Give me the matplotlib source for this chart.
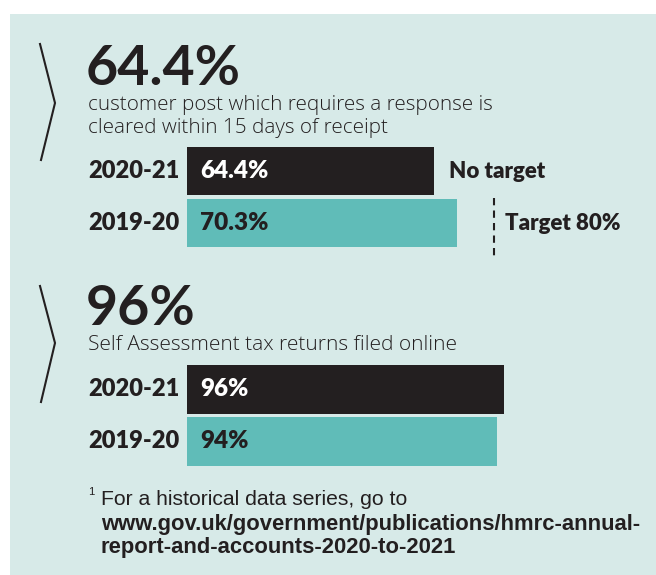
import matplotlib
matplotlib.use('Agg')
import matplotlib.pyplot as plt
from matplotlib.patches import Rectangle

W, H = 656, 575

# customer post cleared within 15 days
POST_YEARS = ['2020-21', '2019-20']
POST_VALUES = [64.4, 70.3]
POST_NOTES = ['No target', 'Target 80%']
POST_TARGET = 80

# Self Assessment returns filed online
SA_YEARS = ['2020-21', '2019-20']
SA_VALUES = [96, 94]

BG = '#d7eae8'
DARK = '#231f20'
TEAL = '#60bcb8'

BOLD = ['Lato', 'DejaVu Sans']
LIGHT = ['Open Sans', 'DejaVu Sans']
COND = ['Liberation Sans', 'DejaVu Sans']


def px_axes(fig, x0, y0, x1, y1):
    return fig.add_axes([x0 / W, 1 - y1 / H, (x1 - x0) / W, (y1 - y0) / H])


def bar_block(fig, years, values, top, bottom, first_center, step, px_per_unit, height_px):
    x0 = 187
    ax = px_axes(fig, x0, top, x0 + 100 * px_per_unit, bottom)
    ax.set_xlim(0, 100)
    ax.set_ylim(1 + (bottom - (first_center + step)) / step, -(first_center - top) / step)
    ax.axis('off')
    colors = [DARK, TEAL]
    txt_colors = ['white', DARK]
    ax.barh(range(len(values)), values, height=height_px / step, color=colors, clip_on=False)
    for i, (yr, v) in enumerate(zip(years, values)):
        ax.annotate(f'{v:g}%', xy=(0, i), xytext=(13, 0), textcoords='offset pixels',
                    ha='left', va='center', fontsize=17.5, fontweight='heavy',
                    family=BOLD, color=txt_colors[i])
        ax.annotate(yr, xy=(0, i), xytext=(88 - x0, 0), textcoords='offset pixels',
                    ha='left', va='center', fontsize=17, fontweight='heavy',
                    family=BOLD, color=DARK, annotation_clip=False)
    return ax


def main():
    fig = plt.figure(figsize=(W / 100, H / 100), dpi=100)
    bg = fig.add_axes([0, 0, 1, 1])
    bg.set_xlim(0, W)
    bg.set_ylim(H, 0)
    bg.axis('off')
    bg.add_patch(Rectangle((10, 14), W - 10, H - 14, color=BG, lw=0))

    # chevrons
    bg.plot([40, 55, 41], [44, 103, 160], color=DARK, lw=1.5, solid_joinstyle='miter')
    bg.plot([40, 55, 41], [286, 343, 402], color=DARK, lw=1.5, solid_joinstyle='miter')

    # headline figures
    bg.text(86, 85, f'{POST_VALUES[0]:g}%', fontsize=40, fontweight='bold', family=BOLD,
            color=DARK, va='baseline')
    bg.text(88, 110, 'customer post which requires a response is', fontsize=14.9,
            fontweight='light', family=LIGHT, color=DARK, va='baseline')
    bg.text(88, 133, 'cleared within 15 days of receipt', fontsize=14.9,
            fontweight='light', family=LIGHT, color=DARK, va='baseline')

    bg.text(86, 325, f'{SA_VALUES[0]:g}%', fontsize=40, fontweight='bold', family=BOLD,
            color=DARK, va='baseline')
    bg.text(88, 350, 'Self Assessment tax returns filed online', fontsize=15,
            fontweight='light', family=LIGHT, color=DARK, va='baseline')

    ax1 = bar_block(fig, POST_YEARS, POST_VALUES, 140, 265, 171, 52, 3.84, 48)
    ax1.annotate(POST_NOTES[0], xy=(POST_VALUES[0], 0), xytext=(15, 0),
                 textcoords='offset pixels', ha='left', va='center', fontsize=16,
                 fontweight='heavy', family=BOLD, color=DARK, annotation_clip=False)
    ax1.vlines(POST_TARGET, (198 - 171) / 52, (260 - 171) / 52, color=DARK, lw=1.5,
               linestyles=(0, (3.5, 2.5)), clip_on=False)
    ax1.annotate(POST_NOTES[1], xy=(POST_TARGET, 1), xytext=(11, 0),
                 textcoords='offset pixels', ha='left', va='center', fontsize=16,
                 fontweight='heavy', family=BOLD, color=DARK, annotation_clip=False)

    bar_block(fig, SA_YEARS, SA_VALUES, 358, 470, 389.5, 52, 3.30, 49)

    # footnote
    bg.text(88, 495, '1', fontsize=8, family=COND, color=DARK, va='baseline')
    bg.text(101, 505, 'For a historical data series, go to', fontsize=15.2,
            family=COND, color=DARK, va='baseline')
    bg.text(101, 530, 'www.gov.uk/government/publications/hmrc-annual-', fontsize=15.8,
            fontweight='bold', family=COND, color=DARK, va='baseline')
    bg.text(101, 553, 'report-and-accounts-2020-to-2021', fontsize=15.8,
            fontweight='bold', family=COND, color=DARK, va='baseline')

    fig.savefig('out.png', dpi=100, facecolor='white')
    plt.close(fig)


if __name__ == '__main__':
    main()
